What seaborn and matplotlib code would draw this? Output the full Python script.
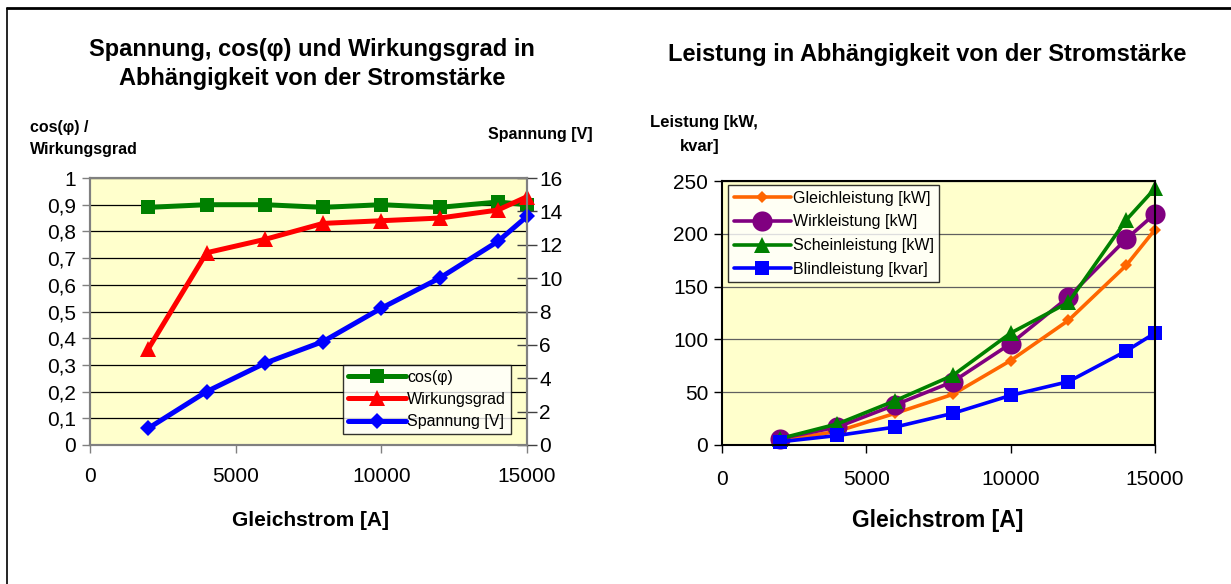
import matplotlib
matplotlib.use("Agg")
import matplotlib.pyplot as plt
from matplotlib.ticker import FuncFormatter, MultipleLocator
import seaborn as sns
import pandas as pd

# ---------------- data ----------------
strom = [2000, 4000, 6000, 8000, 10000, 12000, 14000, 15000]
cosphi = [0.89, 0.90, 0.90, 0.89, 0.90, 0.89, 0.91, 0.90]
wirkungsgrad = [0.36, 0.72, 0.77, 0.83, 0.84, 0.85, 0.88, 0.93]
spannung = [1.0, 3.2, 4.9, 6.2, 8.2, 10.0, 12.2, 13.7]

gleichleistung = [4, 13, 30, 48, 80, 118, 170, 204]
wirkleistung = [6, 17, 38, 60, 96, 140, 195, 219]
scheinleistung = [6, 20, 42, 66, 106, 135, 213, 243]
blindleistung = [3, 9, 17, 30, 47, 60, 89, 106]

title_left = "Spannung, cos(φ) und Wirkungsgrad in\nAbhängigkeit von der Stromstärke"
title_right = "Leistung in Abhängigkeit von der Stromstärke"
xlabel = "Gleichstrom [A]"

sns.set_theme(style="white")
plt.rcParams["font.family"] = ["Liberation Sans", "DejaVu Sans"]
plt.rcParams["text.color"] = "black"
plt.rcParams["axes.labelcolor"] = "black"
plt.rcParams["xtick.color"] = "black"
plt.rcParams["ytick.color"] = "black"
plt.rcParams["legend.labelcolor"] = "black"

W, H = 1231, 584
fig = plt.figure(figsize=(W / 100, H / 100), dpi=100)
fig.patch.set_facecolor("white")

def fx(px):
    return px / W

def fy(py):
    return 1 - py / H

bg = "#FFFFCC"

def comma(v, pos):
    s = ("%.1f" % v).replace(".", ",")
    if s.endswith(",0"):
        s = s[:-2]
    return s

# ---------------- left chart ----------------
ax = fig.add_axes([fx(90), fy(445), fx(527) - fx(90), fy(178) - fy(445)])
ax2 = ax.twinx()
ax.set_facecolor(bg)

df = pd.DataFrame({"x": strom, "cos": cosphi, "wg": wirkungsgrad, "u": spannung})
sns.lineplot(data=df, x="x", y="cos", ax=ax, color="#008000", marker="s",
             markersize=10, linewidth=3.6, markeredgewidth=0, label="cos(φ)",
             legend=False, clip_on=False, sort=False)
sns.lineplot(data=df, x="x", y="wg", ax=ax, color="#FF0000", marker="^",
             markersize=12, linewidth=3.6, markeredgewidth=0, label="Wirkungsgrad",
             legend=False, clip_on=False, sort=False)
sns.lineplot(data=df, x="x", y="u", ax=ax2, color="#0000FF", marker="D",
             markersize=8.5, linewidth=3.6, markeredgewidth=0, label="Spannung [V]",
             legend=False, clip_on=False, sort=False)

ax.set_xlim(0, 15000)
ax.set_ylim(0, 1)
ax2.set_ylim(0, 16)
ax.xaxis.set_major_locator(MultipleLocator(5000))
ax.yaxis.set_major_locator(MultipleLocator(0.1))
ax2.yaxis.set_major_locator(MultipleLocator(2))
ax.yaxis.set_major_formatter(FuncFormatter(comma))
ax.grid(axis="y", color="black", linewidth=0.9)
ax.set_axisbelow(True)
for a in (ax, ax2):
    for s in a.spines.values():
        s.set_color("#808080")
        s.set_linewidth(1.5)
    a.set_xlabel("")
    a.set_ylabel("")
ax.tick_params(axis="x", direction="out", length=6, width=1, color="#808080",
               labelcolor="black", labelsize=15, pad=10, bottom=True)
ax.tick_params(axis="y", direction="out", length=6, width=1, color="#808080",
               labelcolor="black", labelsize=15, pad=4, left=True)
ax2.tick_params(axis="y", direction="inout", length=14, width=1, color="#404040",
                labelcolor="black", labelsize=15, pad=2, right=True)

h1, lab1 = ax.get_legend_handles_labels()
h2, lab2 = ax2.get_legend_handles_labels()
leg = ax2.legend(h1 + h2, lab1 + lab2, loc="lower right",
                 bbox_to_anchor=(0.963, 0.041), frameon=True, fancybox=False,
                 edgecolor="black", fontsize=11.5, handlelength=3.6,
                 handletextpad=0.1, borderpad=0.3, labelspacing=0.45,
                 borderaxespad=0)
leg.get_frame().set_linewidth(1)
leg.get_frame().set_facecolor("white")

fig.text(fx(312), fy(64), title_left, ha="center", va="center",
         fontsize=17, fontweight="bold", linespacing=1.35, color="black")
fig.text(fx(30), fy(120), "cos(φ) /\nWirkungsgrad", ha="left", va="top",
         fontsize=11.5, fontweight="bold", linespacing=1.55, color="black")
fig.text(fx(488), fy(135), "Spannung [V]", ha="left", va="center",
         fontsize=11.5, fontweight="bold", color="black")
fig.text(fx(310), fy(521), xlabel, ha="center", va="center",
         fontsize=15, fontweight="bold", color="black")

# ---------------- right chart ----------------
bx = fig.add_axes([fx(722), fy(445), fx(1155) - fx(722), fy(181) - fy(445)])
bx.set_facecolor(bg)
dfr = pd.DataFrame({"x": strom, "g": gleichleistung, "w": wirkleistung,
                    "s": scheinleistung, "b": blindleistung})
sns.lineplot(data=dfr, x="x", y="g", ax=bx, color="#FF6600", marker="D",
             markersize=6.5, linewidth=2.6, markeredgewidth=0,
             label="Gleichleistung [kW]", clip_on=False, sort=False)
sns.lineplot(data=dfr, x="x", y="w", ax=bx, color="#800080", marker="o",
             markersize=14.5, linewidth=2.6, markeredgewidth=0,
             label="Wirkleistung [kW]", clip_on=False, sort=False)
sns.lineplot(data=dfr, x="x", y="s", ax=bx, color="#008000", marker="^",
             markersize=11, linewidth=2.6, markeredgewidth=0,
             label="Scheinleistung [kW]", clip_on=False, sort=False)
sns.lineplot(data=dfr, x="x", y="b", ax=bx, color="#0000FF", marker="s",
             markersize=9.5, linewidth=2.6, markeredgewidth=0,
             label="Blindleistung [kvar]", clip_on=False, sort=False)
bx.set_xlim(0, 15000)
bx.set_ylim(0, 250)
bx.xaxis.set_major_locator(MultipleLocator(5000))
bx.yaxis.set_major_locator(MultipleLocator(50))
bx.grid(axis="y", color="#606060", linewidth=0.9)
bx.set_axisbelow(True)
for s in bx.spines.values():
    s.set_color("black")
    s.set_linewidth(1.5)
bx.set_xlabel("")
bx.set_ylabel("")
bx.tick_params(axis="x", direction="out", length=6, width=1, color="black",
               labelcolor="black", labelsize=15, pad=12, bottom=True)
bx.tick_params(axis="y", direction="out", length=6, width=1, color="black",
               labelcolor="black", labelsize=15, pad=4, left=True)
leg2 = bx.legend(loc="upper left", bbox_to_anchor=(0.014, 0.985), frameon=True,
                 fancybox=False, edgecolor="black", fontsize=11.5,
                 handlelength=3.6, handletextpad=0.1, borderpad=0.35,
                 labelspacing=0.55, borderaxespad=0)
leg2.get_frame().set_linewidth(1)
leg2.get_frame().set_facecolor("white")

fig.text(fx(927), fy(55), title_right, ha="center", va="center",
         fontsize=17, fontweight="bold", color="black")
fig.text(fx(650), fy(122), "Leistung [kW,", ha="left", va="center",
         fontsize=12, fontweight="bold", color="black")
fig.text(fx(680), fy(146), "kvar]", ha="left", va="center",
         fontsize=12, fontweight="bold", color="black")
fig.text(fx(938), fy(520), xlabel, ha="center", va="center",
         fontsize=16.5, fontweight="bold", color="black")

# frame lines (top and left)
fig.add_artist(plt.Line2D([fx(7), 1], [fy(8), fy(8)], color="black", linewidth=2))
fig.add_artist(plt.Line2D([fx(7), fx(7)], [0, fy(8)], color="black", linewidth=1.2))

fig.savefig("out.png", dpi=100)
